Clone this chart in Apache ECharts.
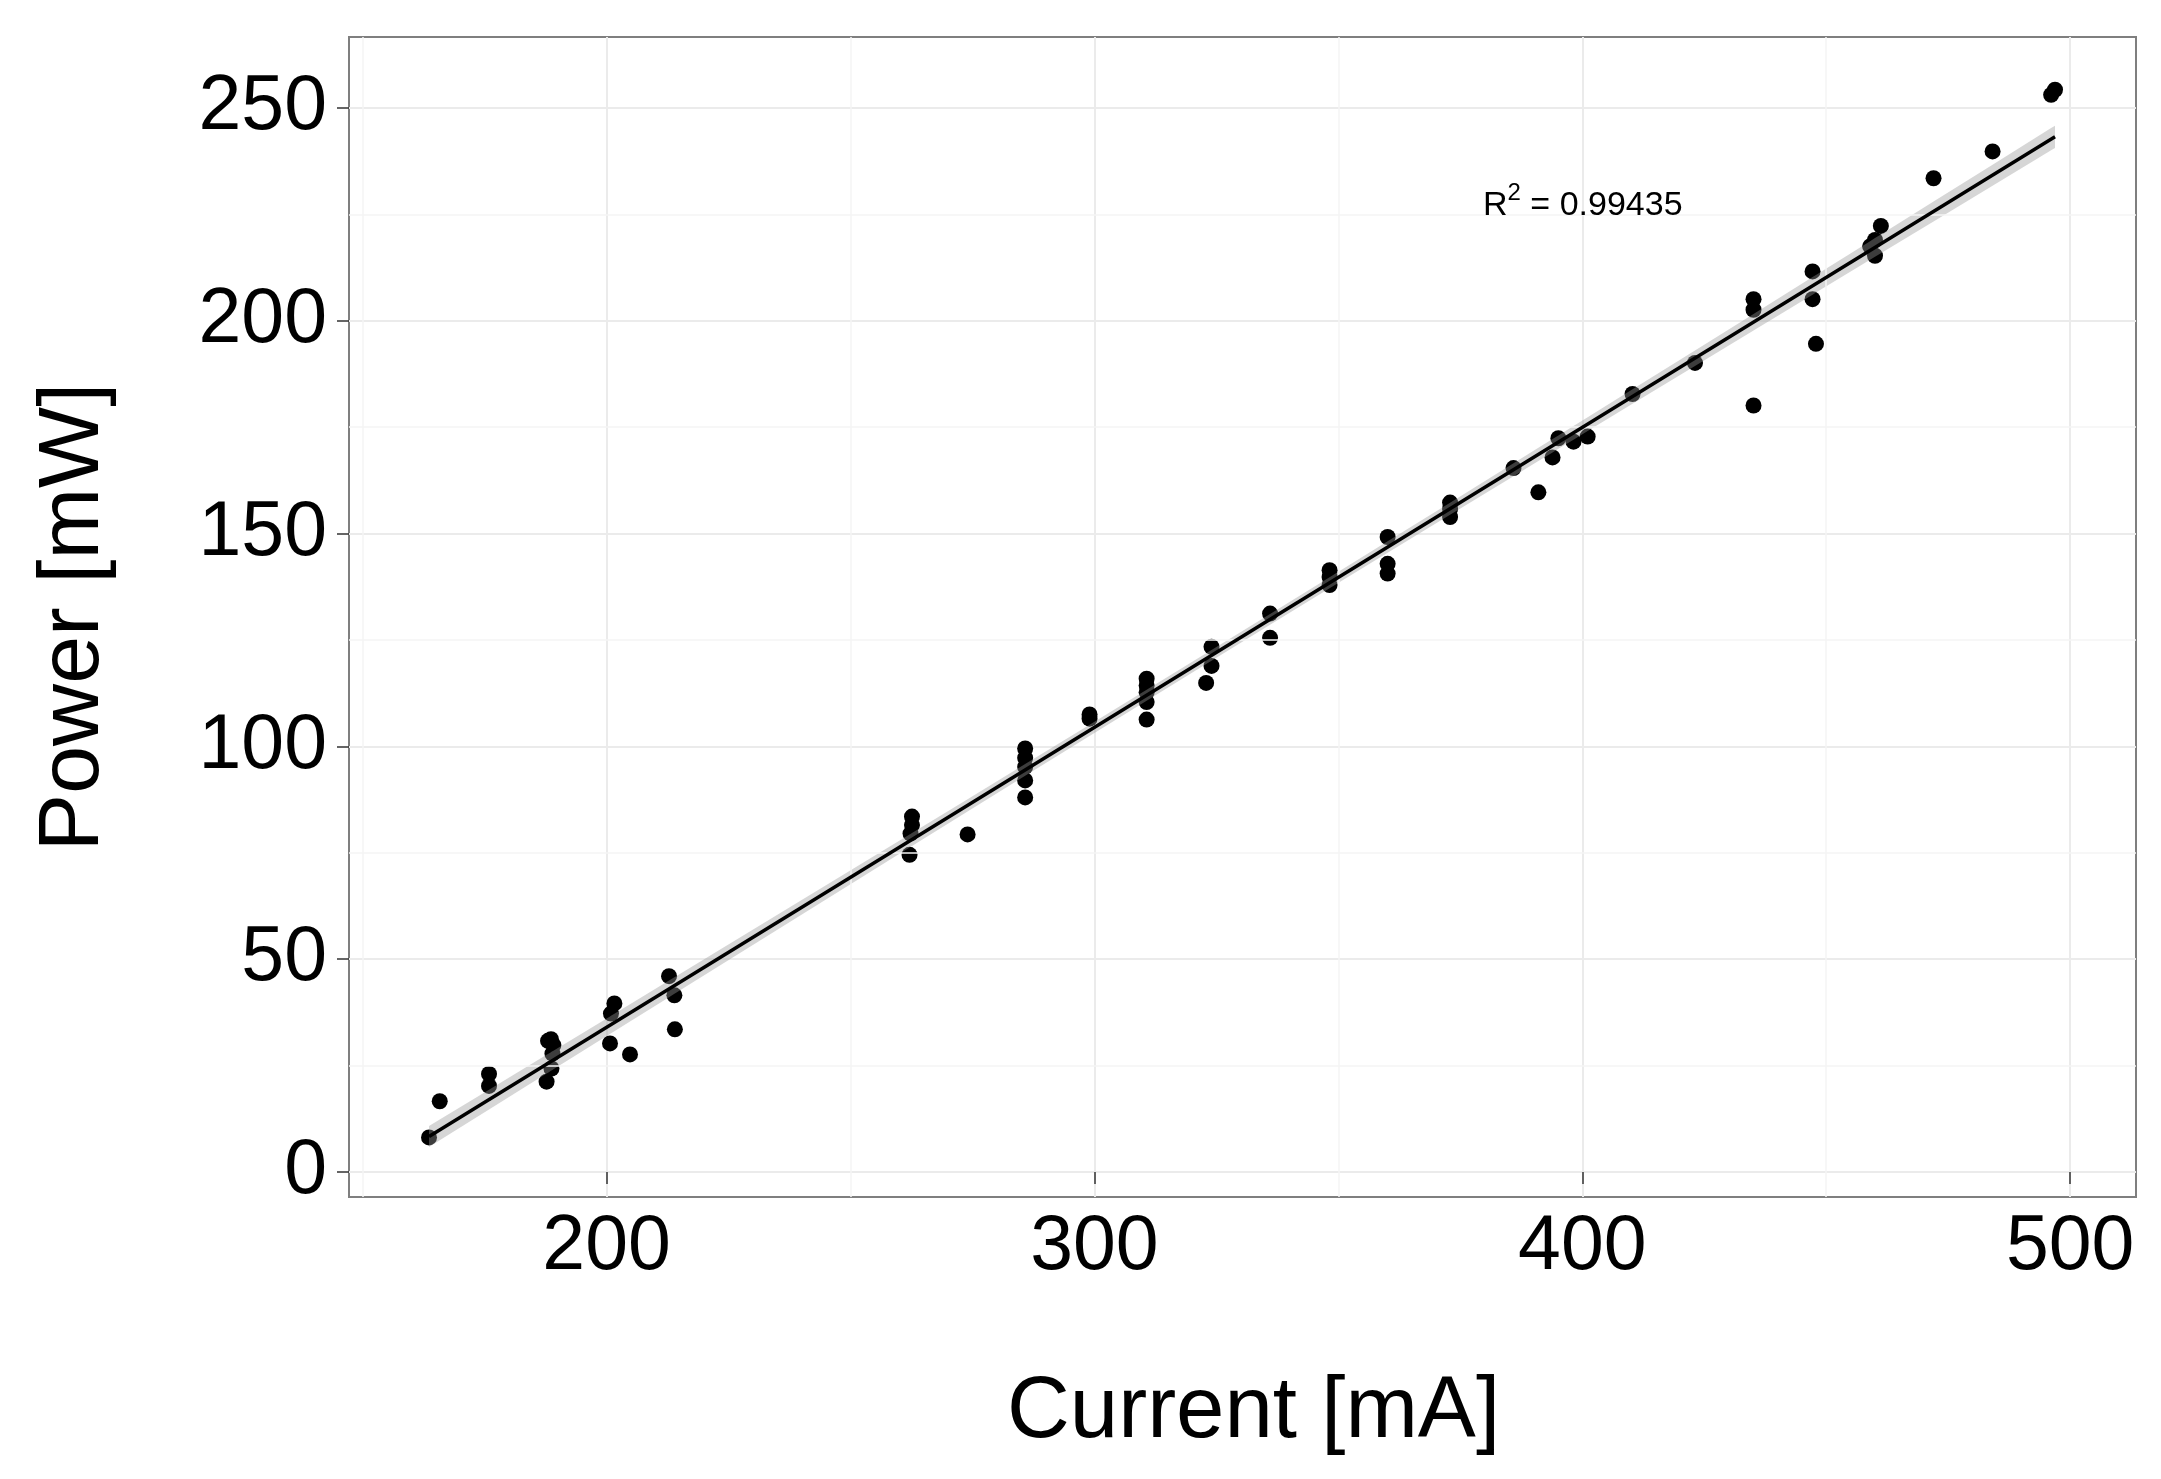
<!DOCTYPE html>
<html><head><meta charset="utf-8">
<script src="https://cdn.jsdelivr.net/npm/echarts@6/dist/echarts.min.js"></script>
<style>html,body{margin:0;padding:0;background:#fff}#c{width:2161px;height:1479px}</style>
</head><body><div id="c"></div>
<script>
// ---- data ----
const currentMA = [163.6,165.8,175.9,175.9,187.7,188.7,188.9,188.0,189.1,188.6,
  200.7,200.9,201.6,204.8,212.8,213.9,214.0,
  262.1,262.3,262.6,262.6,274.0,
  285.8,285.8,285.8,285.8,285.8,
  299.0,299.0,
  310.7,310.7,310.7,310.7,310.7,
  324.0,324.0,322.9,
  336.0,336.0,
  348.2,348.2,348.2,
  360.1,360.1,360.1,
  372.9,372.9,372.9,
  385.9,391.0,393.9,395.1,398.2,401.1,
  410.3,423.1,
  435.1,435.1,435.1,
  447.2,447.2,447.9,
  459.0,460.0,460.0,461.2,
  472.0,484.1,496.1,496.9];
const powerMW = [8.1,16.6,23.0,20.2,21.2,24.3,27.8,30.8,29.8,31.2,
  30.2,37.2,39.6,27.6,46.0,41.5,33.5,
  74.5,79.5,81.5,83.5,79.3,
  99.5,97.3,95.2,92.0,88.0,
  107.5,106.5,
  115.9,114.3,112.7,110.4,106.3,
  123.4,118.9,114.9,
  131.2,125.5,
  141.4,139.8,137.9,
  149.2,142.9,140.6,
  157.3,155.8,153.9,
  165.4,159.7,167.9,172.4,171.6,172.8,
  182.8,190.1,
  205.1,202.6,180.1,
  211.6,205.1,194.6,
  217.5,219.0,215.3,222.3,
  233.5,239.8,253.1,254.3];
const xTicks = [200, 300, 400, 500];
const yTicks = [0, 50, 100, 150, 200, 250];
const xMinor = [150, 250, 350, 450];
const yMinor = [25, 75, 125, 175, 225];
const xRange = [147.2, 513.5];
const yRange = [-5.9, 266.7];
const r2Value = '0.99435';
const xTitle = 'Current [mA]';
const yTitle = 'Power [mW]';

// ---- linear fit (lm) with 95% confidence band, from the data ----
const n = currentMA.length;
const xbar = currentMA.reduce((a,b)=>a+b,0)/n;
const ybar = powerMW.reduce((a,b)=>a+b,0)/n;
let sxx=0, sxy=0;
for (let i=0;i<n;i++){ sxx += (currentMA[i]-xbar)**2; sxy += (currentMA[i]-xbar)*(powerMW[i]-ybar); }
const slope = sxy/sxx, intercept = ybar - slope*xbar;
let sse=0;
for (let i=0;i<n;i++){ sse += (powerMW[i]-(intercept+slope*currentMA[i]))**2; }
const sRes = Math.sqrt(sse/(n-2));
const tCrit = 1.995;
const bandX = Array.from(new Set(currentMA)).sort((a,b)=>a-b);
const bandHi = bandX.map(x => intercept+slope*x + tCrit*sRes*Math.sqrt(1/n + (x-xbar)**2/sxx));
const bandLo = bandX.map(x => intercept+slope*x - tCrit*sRes*Math.sqrt(1/n + (x-xbar)**2/sxx));
const xMin = Math.min(...currentMA), xMax = Math.max(...currentMA);
const fitLine = [[xMin, intercept+slope*xMin],[xMax, intercept+slope*xMax]];

const FONT = "'Liberation Sans', Arial, sans-serif";
const chart = echarts.init(document.getElementById('c'), null, {renderer:'canvas'});
chart.setOption({
  animation: false,
  backgroundColor: '#ffffff',
  grid: {left: 349, top: 37, right: 25, bottom: 282, show: true,
         borderColor: '#7f7f7f', borderWidth: 2, backgroundColor: '#ffffff'},
  xAxis: {
    type: 'value', min: xRange[0], max: xRange[1], splitNumber: 4,
    axisLine: {show: false},
    axisTick: {show: true, length: 12, customValues: xTicks, lineStyle: {color: '#333', width: 1.5}},
    axisLabel: {customValues: xTicks, fontSize: 77, color: '#000', fontFamily: FONT, margin: 12},
    splitLine: {show: true, lineStyle: {color: '#ebebeb', width: 2}},
    name: xTitle, nameLocation: 'middle', nameGap: 173,
    nameTextStyle: {fontSize: 87, color: '#000', fontFamily: FONT, padding: [0, 0, 0, 22]}
  },
  yAxis: {
    type: 'value', min: yRange[0], max: yRange[1], splitNumber: 5,
    axisLine: {show: false},
    axisTick: {show: true, length: 12, customValues: yTicks, lineStyle: {color: '#333', width: 1.5}},
    axisLabel: {customValues: yTicks, fontSize: 77, color: '#000', fontFamily: FONT, margin: 22},
    splitLine: {show: true, lineStyle: {color: '#ebebeb', width: 2}},
    name: yTitle, nameLocation: 'middle', nameGap: 232,
    nameTextStyle: {fontSize: 86, color: '#000', fontFamily: FONT}
  },
  series: [
    {
      type: 'line', data: [], z: 1, silent: true,
      markLine: {
        silent: true, symbol: 'none', label: {show: false}, animation: false,
        lineStyle: {color: '#f5f5f5', width: 1.5, type: 'solid'},
        data: xMinor.map(v => ({xAxis: v})).concat(yMinor.map(v => ({yAxis: v})))
      }
    },
    {
      type: 'scatter', z: 3, symbol: 'circle', symbolSize: 16,
      itemStyle: {color: '#000', opacity: 1},
      data: currentMA.map((x,i) => [x, powerMW[i]])
    },
    {
      type: 'custom', z: 4, silent: true,
      data: [[bandX[0], bandLo[0]]],
      renderItem: function(params, api){
        const pts = [];
        for (let i=0;i<bandX.length;i++) pts.push(api.coord([bandX[i], bandHi[i]]));
        for (let i=bandX.length-1;i>=0;i--) pts.push(api.coord([bandX[i], bandLo[i]]));
        return {type: 'polygon', shape: {points: pts}, style: {fill: 'rgba(153,153,153,0.4)', stroke: null}};
      }
    },
    {
      type: 'line', z: 5, silent: true, symbol: 'none',
      lineStyle: {color: '#000', width: 3.5},
      data: fitLine
    }
  ],
  graphic: [{
    type: 'text', left: 1483, top: 181, z: 10,
    style: {
      text: '{r|R}{s|2}{r| = ' + r2Value + '}',
      rich: {
        r: {fontSize: 34, lineHeight: 42, verticalAlign: 'bottom', fontFamily: FONT, fill: '#000', color: '#000'},
        s: {fontSize: 24, lineHeight: 24, verticalAlign: 'top', fontFamily: FONT, fill: '#000', color: '#000'}
      }
    }
  }]
});
</script></body></html>
